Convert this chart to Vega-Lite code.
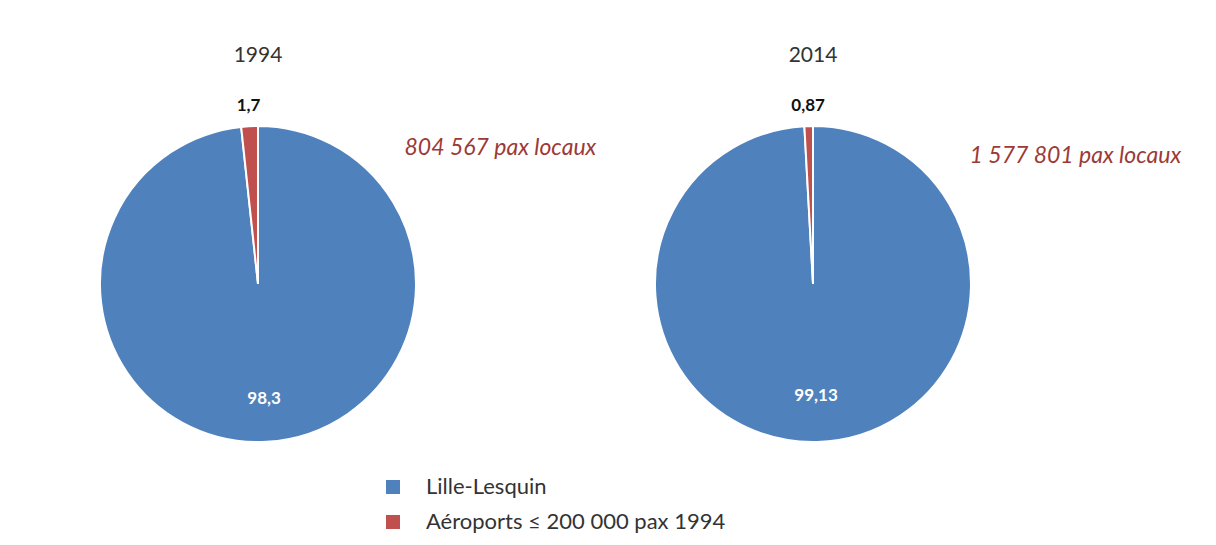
{
  "$schema": "https://vega.github.io/schema/vega-lite/v6.json",
  "padding": {"left": 0, "top": 45, "right": 0, "bottom": 0},
  "background": "white",
  "spacing": 0,
  "bounds": "flush",
  "datasets": {
    "shares": [
      {"year": "1994", "site": "Lille-Lesquin", "value": 98.3, "order": 1, "note": "804 567 pax locaux"},
      {"year": "1994", "site": "Aéroports ≤ 200 000 pax 1994", "value": 1.7, "order": 2, "note": "804 567 pax locaux"},
      {"year": "2014", "site": "Lille-Lesquin", "value": 99.13, "order": 1, "note": "1 577 801 pax locaux"},
      {"year": "2014", "site": "Aéroports ≤ 200 000 pax 1994", "value": 0.87, "order": 2, "note": "1 577 801 pax locaux"}
    ]
  },
  "hconcat": [
    {
      "width": 516,
      "height": 400,
      "title": {"text": "1994", "fontSize": 21, "fontWeight": "normal", "font": "Lato", "color": "#333333", "offset": 18},
      "data": {"name": "shares"},
      "transform": [
        {"filter": "datum.year === '1994'"},
        {"calculate": "replace(toString(datum.value), '.', ',')", "as": "label"}
      ],
      "encoding": {
        "theta": {"field": "value", "type": "quantitative", "stack": true},
        "order": {"field": "order", "type": "quantitative"}
      },
      "layer": [
        {
          "mark": {"type": "arc", "outerRadius": 158, "stroke": "white", "strokeWidth": 2},
          "encoding": {
            "color": {
              "field": "site", "type": "nominal",
              "scale": {"domain": ["Lille-Lesquin", "Aéroports ≤ 200 000 pax 1994"], "range": ["#4f81bd", "#c0504d"]},
              "legend": {
                "title": null,
                "symbolType": "square",
                "encode": {"symbols": {
                  "enter": {"fill": {"signal": "datum.value === 'Lille-Lesquin' ? '#4f81bd' : '#c00000'"}},
                  "update": {"fill": {"signal": "datum.value === 'Lille-Lesquin' ? '#4f81bd' : '#c00000'"}}
                }}
              }
            }
          }
        },
        {
          "mark": {"type": "text", "radius": 178, "font": "Lato", "fontSize": 17, "fontWeight": "bold", "fill": "#111111"},
          "encoding": {
            "text": {"condition": {"test": "datum.order === 2", "field": "label"}, "value": ""}
          }
        },
        {
          "mark": {"type": "text", "radius": 115, "font": "Lato", "fontSize": 17, "fontWeight": "bold", "fill": "white"},
          "encoding": {
            "text": {"condition": {"test": "datum.order === 1", "field": "label"}, "value": ""}
          }
        },
        {
          "transform": [{"filter": "datum.order === 1"}],
          "mark": {"type": "text", "radius": 278, "theta": 1.059, "font": "Lato", "fontSize": 23, "fontStyle": "italic", "fill": "#9b3a38"},
          "encoding": {"text": {"field": "note"}, "theta": null, "order": null}
        }
      ]
    },
    {
      "width": 594,
      "height": 400,
      "title": {"text": "2014", "fontSize": 21, "fontWeight": "normal", "font": "Lato", "color": "#333333", "offset": 18},
      "data": {"name": "shares"},
      "transform": [
        {"filter": "datum.year === '2014'"},
        {"calculate": "replace(toString(datum.value), '.', ',')", "as": "label"}
      ],
      "encoding": {
        "theta": {"field": "value", "type": "quantitative", "stack": true},
        "order": {"field": "order", "type": "quantitative"}
      },
      "layer": [
        {
          "mark": {"type": "arc", "outerRadius": 158, "stroke": "white", "strokeWidth": 2},
          "encoding": {
            "color": {
              "field": "site", "type": "nominal",
              "scale": {"domain": ["Lille-Lesquin", "Aéroports ≤ 200 000 pax 1994"], "range": ["#4f81bd", "#c0504d"]},
              "legend": {
                "title": null,
                "symbolType": "square",
                "encode": {"symbols": {
                  "enter": {"fill": {"signal": "datum.value === 'Lille-Lesquin' ? '#4f81bd' : '#c00000'"}},
                  "update": {"fill": {"signal": "datum.value === 'Lille-Lesquin' ? '#4f81bd' : '#c00000'"}}
                }}
              }
            }
          }
        },
        {
          "mark": {"type": "text", "radius": 178, "font": "Lato", "fontSize": 17, "fontWeight": "bold", "fill": "#111111"},
          "encoding": {
            "text": {"condition": {"test": "datum.order === 2", "field": "label"}, "value": ""}
          }
        },
        {
          "mark": {"type": "text", "radius": 112, "font": "Lato", "fontSize": 17, "fontWeight": "bold", "fill": "white"},
          "encoding": {
            "text": {"condition": {"test": "datum.order === 1", "field": "label"}, "value": ""}
          }
        },
        {
          "transform": [{"filter": "datum.order === 1"}],
          "mark": {"type": "text", "radius": 292, "theta": 1.116, "font": "Lato", "fontSize": 23, "fontStyle": "italic", "fill": "#9b3a38"},
          "encoding": {"text": {"field": "note"}, "theta": null, "order": null}
        }
      ]
    }
  ],
  "config": {
    "view": {"stroke": null},
    "legend": {
      "orient": "none",
      "legendX": 382,
      "legendY": 392,
      "symbolType": "square",
      "symbolSize": 196,
      "symbolStrokeWidth": 0,
      "labelFont": "Lato",
      "labelFontSize": 22,
      "labelColor": "#333333",
      "labelOffset": 22,
      "labelLimit": 500,
      "rowPadding": 13
    }
  }
}
